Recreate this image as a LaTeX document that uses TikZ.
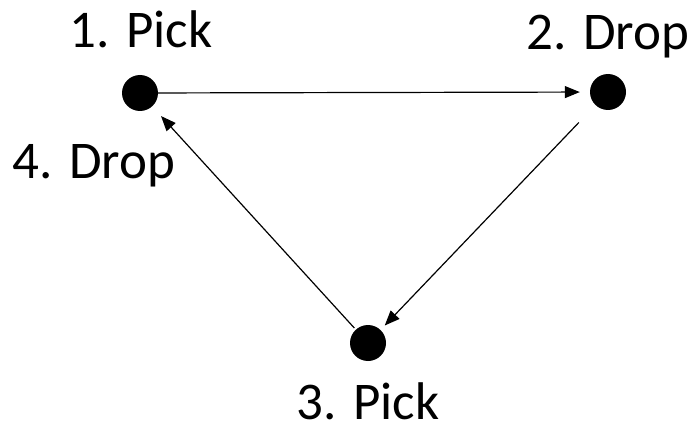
\documentclass[tikz,border=0pt]{standalone}
\usepackage{fontspec}
\setmainfont{Carlito}
\usetikzlibrary{arrows.meta}
\begin{document}
\begin{tikzpicture}[x=1pt,y=-1pt,
  dot/.style={circle,fill=black,draw=none,minimum size=36pt,inner sep=0pt},
  lbl/.style={anchor=base,inner sep=0pt,font=\fontsize{53}{60}\selectfont},
  arr/.style={line width=1.2pt,-{Triangle[length=15pt,width=12pt]}}]
\useasboundingbox (0,0) rectangle (694,428);
\node[dot] (d1) at (140,93) {};
\node[dot] (d2) at (608,92) {};
\node[dot] (d3) at (368,343) {};
\node[lbl] (l1) at (141,48) {1. Pick};
\node[lbl] (l2) at (608,50) {2. Drop};
\node[lbl] (l4) at (94,178) {4. Drop};
\node[lbl] (l3) at (368,419) {3. Pick};
\draw[arr,shorten >=10pt] (d1) -- (d2);
\draw[arr,shorten <=24pt,shorten >=6pt] (d2) -- (d3);
\draw[arr,shorten <=2pt,shorten >=13pt] (d3) -- (d1);
\end{tikzpicture}
\end{document}
